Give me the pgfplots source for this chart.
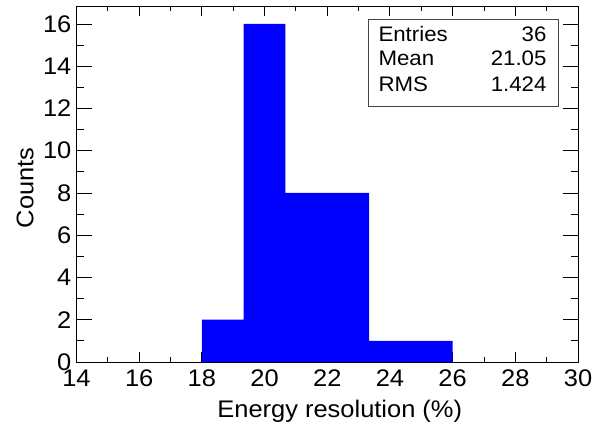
\documentclass[border=0pt]{standalone}
\usepackage{pgfplots}
\pgfplotsset{compat=1.18}
\usepackage{fontspec}
\setmainfont{Liberation Sans}[FakeStretch=1.06]
\begin{document}
\begin{tikzpicture}[x=1bp,y=1bp]
\path[use as bounding box] (0,0) rectangle (606,426);
\begin{axis}[
  at={(76.5bp,64bp)}, anchor=south west,
  scale only axis, width=501.5bp, height=356bp,
  xmin=14, xmax=30, ymin=0, ymax=16.85,
  xtick={14,16,...,30}, ytick={0,2,...,16},
  minor x tick num=1, minor y tick num=1,
  tick align=inside,
  xtick pos=both, ytick pos=both,
  xticklabel pos=bottom, yticklabel pos=left,
  major tick length=15bp, minor tick length=7.5bp,
  xtick style={/pgfplots/major tick length=10bp,/pgfplots/minor tick length=5bp},
  axis line style={line width=0.9bp},
  every tick/.style={black, line width=0.9bp},
  /pgf/number format/assume math mode=true,
  ticklabel style={font=\fontsize{24bp}{27bp}\selectfont},
  xticklabel style={anchor=base, yshift=-24bp, inner sep=0pt},
  yticklabel style={anchor=east, inner sep=0pt, xshift=-5bp},
  xlabel={Energy resolution (\%)},
  ylabel={Counts},
  label style={font=\fontsize{24bp}{27bp}\selectfont},
  xlabel style={at={(axis description cs:0.525,-0.157)}, anchor=base, inner sep=0pt},
  ylabel style={at={(axis description cs:-0.0861,0.489)}, anchor=base, rotate=0, inner sep=0pt},
]
\addplot[ybar interval, fill={rgb,255:red,0;green,0;blue,255}, draw=none] coordinates {
  (18,2) (19.3333,16) (20.6667,8) (22,8) (23.3333,1) (24.6667,1) (26,1)
};
\end{axis}
\draw[line width=0.9bp, draw={rgb,255:red,70;green,70;blue,70}] (368.7,319.3) rectangle (558,406.7);
\begin{scope}[every node/.style={font=\fontsize{21bp}{24bp}\selectfont, inner sep=0pt}]
\node[anchor=base west] at (378.3,384.3) {Entries};
\node[anchor=base west] at (378.3,361) {Mean};
\node[anchor=base west] at (378.3,334.8) {RMS};
\node[anchor=base east] at (546.7,384.3) {36};
\node[anchor=base east] at (546.7,361) {21.05};
\node[anchor=base east] at (546.7,334.8) {1.424};
\end{scope}
\end{tikzpicture}
\end{document}
